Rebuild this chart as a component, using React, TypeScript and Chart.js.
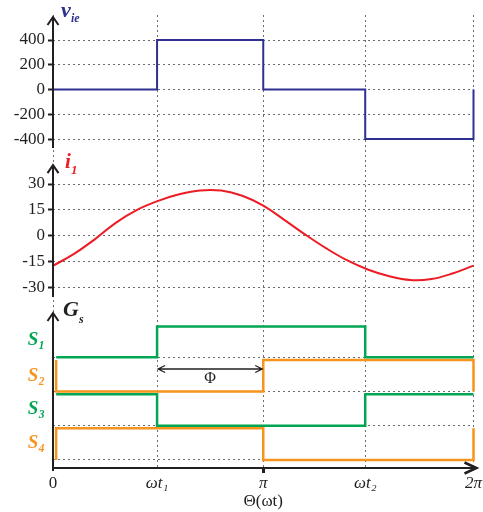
import React, { useEffect, useRef } from 'react';
import { Chart, registerables } from 'chart.js';

Chart.register(...registerables);

const PI = Math.PI;

// ---- x axis (phase angle, radians) ----
const xTickValues = [0, 0.495 * PI, PI, 1.485 * PI, 2 * PI];
const xTickLabels = ['0', 'ωt₁', 'π', 'ωt₂', '2π'];

// ---- panel 1: v_ie ----
const vieTheta = [0, 0, 0.495 * PI, 0.495 * PI, PI, PI, 1.485 * PI, 1.485 * PI, 2 * PI, 2 * PI];
const vieValues = [-400, 0, 0, 400, 400, 0, 0, -400, -400, 0];
const vieTicks = [400, 200, 0, -200, -400];

// ---- panel 2: i_1 ----
const i1ThetaOverPi = [0, 0.1, 0.2, 0.3, 0.4, 0.5, 0.6, 0.7, 0.8, 0.9, 1.0, 1.1, 1.2, 1.3, 1.4, 1.5, 1.6, 1.7, 1.8, 1.9, 2.0];
const i1Values = [-17.5, -10.6, -2.0, 7.6, 15.0, 20.2, 24.0, 26.3, 26.2, 23.2, 17.5, 9.2, 0.6, -7.4, -14.4, -19.8, -23.6, -25.8, -25.2, -22.0, -17.4];
const i1Ticks = [30, 15, 0, -15, -30];

// ---- panel 3: gate signals ----
const s1Theta = [0.015 * PI, 0.495 * PI, 0.495 * PI, 1.485 * PI, 1.485 * PI, 2 * PI];
const s1Levels = [3, 3, 3.9, 3.9, 3, 3];
const s2Theta = [0.015 * PI, 0.015 * PI, PI, PI, 2 * PI, 2 * PI];
const s2Levels = [2.92, 2, 2, 2.92, 2.92, 2];
const s3Theta = [0.015 * PI, 0.495 * PI, 0.495 * PI, 1.485 * PI, 1.485 * PI, 2 * PI];
const s3Levels = [1.92, 1.92, 1, 1, 1.92, 1.92];
const s4Theta = [0.015 * PI, 0.015 * PI, PI, PI, 2 * PI, 2 * PI];
const s4Levels = [0, 0.93, 0.93, 0, 0, 0.93];
const gateGridTicks = [0, 1, 2, 3];
const gateLabelTicks = [3.5, 2.45, 1.5, 0.5];
const gateLabels = ['S₁', 'S₂', 'S₃', 'S₄'];

// phase-shift annotation (from ωt1 to π)
const phiFrom = 0.495 * PI;
const phiTo = PI;
const phiLevel = 2.66;
const phiLabelLevel = 2.38;

const BLUE = '#2E3192';
const RED = '#ED1C24';
const GREEN = '#00A651';
const ORANGE = '#F7941D';
const INK = '#231F20';
const GRID = '#6D6E71';
const SERIF = "'Liberation Serif', 'DejaVu Serif', serif";

const pts = (xs: number[], ys: number[]) => xs.map((x, i) => ({ x, y: ys[i] }));

const decorPlugin = {
  id: 'decor',
  afterDraw(chart: any) {
    const { ctx, chartArea, scales } = chart;
    const x0 = chartArea.left;
    const xb = chartArea.bottom;
    ctx.save();
    ctx.strokeStyle = INK;
    ctx.fillStyle = INK;
    ctx.lineWidth = 2;
    ctx.lineCap = 'butt';

    const upArrow = (x: number, y: number) => {
      ctx.beginPath();
      ctx.moveTo(x - 5.5, y + 8);
      ctx.lineTo(x, y);
      ctx.lineTo(x + 5.5, y + 8);
      ctx.stroke();
    };

    // y axes of each panel
    const axes = [
      { id: 'yV', top: 586, bottom: -472, extra: 0 },
      { id: 'yI', top: 41, bottom: -35.6, extra: 0 },
      { id: 'yG', top: 4.296, bottom: null, extra: 3 },
    ];
    for (const a of axes) {
      const s = scales[a.id];
      const yt = s.getPixelForValue(a.top);
      const yb = a.bottom === null ? xb + a.extra : s.getPixelForValue(a.bottom);
      ctx.beginPath();
      ctx.moveTo(x0, yb);
      ctx.lineTo(x0, yt);
      ctx.stroke();
      upArrow(x0, yt);
    }

    // x axis with arrow
    const tipX = chartArea.right + 3;
    ctx.beginPath();
    ctx.moveTo(x0, xb);
    ctx.lineTo(tipX, xb);
    ctx.stroke();
    ctx.lineWidth = 2.5;
    ctx.beginPath();
    ctx.moveTo(tipX - 12, xb - 5.5);
    ctx.lineTo(tipX, xb);
    ctx.lineTo(tipX - 12, xb + 5.5);
    ctx.stroke();
    ctx.lineWidth = 2;

    // panel titles
    const title = (main: string, sub: string, color: string, x: number, y: number, mainSize: number, subSize: number, subDx: number, subDy: number) => {
      ctx.fillStyle = color;
      ctx.textAlign = 'left';
      ctx.textBaseline = 'alphabetic';
      ctx.font = `italic bold ${mainSize}px ${SERIF}`;
      ctx.fillText(main, x, y);
      ctx.font = `italic bold ${subSize}px ${SERIF}`;
      ctx.fillText(sub, x + subDx, y + subDy);
    };
    const yV = scales.yV, yI = scales.yI, yG = scales.yG;
    title('v', 'ie', BLUE, x0 + 8, yV.getPixelForValue(586), 22, 12, 10, 5);
    title('i', '1', RED, x0 + 12, yI.getPixelForValue(41) + 3, 21, 13, 6, 6);
    title('G', 's', INK, x0 + 10, yG.getPixelForValue(4.296) + 3, 22, 12, 16, 7);

    // phase shift arrow
    const xs = scales.x;
    const ax1 = xs.getPixelForValue(phiFrom) + 1;
    const ax2 = xs.getPixelForValue(phiTo) - 1;
    const ay = yG.getPixelForValue(phiLevel);
    ctx.strokeStyle = INK;
    ctx.lineWidth = 1.3;
    ctx.beginPath();
    ctx.moveTo(ax1, ay);
    ctx.lineTo(ax2, ay);
    ctx.moveTo(ax1 + 7, ay - 3.5);
    ctx.lineTo(ax1, ay);
    ctx.lineTo(ax1 + 7, ay + 3.5);
    ctx.moveTo(ax2 - 7, ay - 3.5);
    ctx.lineTo(ax2, ay);
    ctx.lineTo(ax2 - 7, ay + 3.5);
    ctx.stroke();
    ctx.fillStyle = INK;
    ctx.font = `16px ${SERIF}`;
    ctx.textAlign = 'center';
    ctx.textBaseline = 'middle';
    ctx.fillText('Φ', (ax1 + ax2) / 2, yG.getPixelForValue(phiLabelLevel));

    ctx.restore();
  },
};

const gridCommon = {
  color: GRID,
  lineWidth: 1,
  tickLength: 5,
  tickWidth: 2,
  tickColor: INK,
};

export default function App() {
  const ref = useRef<HTMLCanvasElement | null>(null);

  useEffect(() => {
    if (!ref.current) return;
    const common = { pointRadius: 0, borderJoinStyle: 'miter', clip: false };
    const chart = new Chart(ref.current, {
      type: 'line',
      data: {
        datasets: [
          { label: 'v_ie', data: pts(vieTheta, vieValues), yAxisID: 'yV', borderColor: BLUE, borderWidth: 2, ...common },
          { label: 'i_1', data: pts(i1ThetaOverPi.map((t) => t * PI), i1Values), yAxisID: 'yI', borderColor: RED, borderWidth: 2, tension: 0.4, ...common, borderJoinStyle: 'round' },
          { label: 'S1', data: pts(s1Theta, s1Levels), yAxisID: 'yG', borderColor: GREEN, borderWidth: 2.5, ...common },
          { label: 'S2', data: pts(s2Theta, s2Levels), yAxisID: 'yG', borderColor: ORANGE, borderWidth: 2.5, ...common },
          { label: 'S3', data: pts(s3Theta, s3Levels), yAxisID: 'yG', borderColor: GREEN, borderWidth: 2.5, ...common },
          { label: 'S4', data: pts(s4Theta, s4Levels), yAxisID: 'yG', borderColor: ORANGE, borderWidth: 2.5, ...common },
        ],
      },
      options: {
        animation: false,
        responsive: false,
        devicePixelRatio: 1,
        layout: { padding: { top: 15, right: 9.5, left: 0, bottom: 0 } },
        plugins: { legend: { display: false }, tooltip: { enabled: false } },
        scales: {
          x: {
            type: 'linear',
            min: 0,
            max: 2 * PI,
            afterBuildTicks: (s: any) => {
              s.ticks = xTickValues.map((v) => ({ value: v }));
            },
            afterFit: (s: any) => {
              s.height = 44;
            },
            ticks: {
              autoSkip: false,
              maxRotation: 0,
              padding: 0,
              color: INK,
              font: (c: any) => ({ family: SERIF, size: 17, style: c.index === 0 ? 'normal' : 'italic' }),
              callback: (v: any, i: number) => xTickLabels[i],
            },
            grid: {
              ...gridCommon,
              tickColor: (c: any) => (c.index === 2 ? INK : 'rgba(0,0,0,0)'),
              tickWidth: 3,
            },
            border: { display: false, dash: [2, 3] },
            title: { display: true, text: 'Θ(ωt)', color: INK, font: { family: SERIF, size: 17 }, padding: { top: 0, bottom: 0 } },
          },
          yG: {
            type: 'linear',
            position: 'left',
            stack: 'panels',
            stackWeight: 163,
            min: -0.234,
            max: 4.53,
            afterBuildTicks: (s: any) => {
              s.ticks = [...gateGridTicks, ...gateLabelTicks].sort((a, b) => a - b).map((v) => ({ value: v }));
            },
            afterFit: (s: any) => {
              s.width = 53;
            },
            ticks: {
              autoSkip: false,
              padding: 3,
              color: (c: any) => {
                const k = gateLabelTicks.indexOf(c.tick.value);
                return k % 2 === 0 ? GREEN : ORANGE;
              },
              font: { family: SERIF, size: 19, style: 'italic', weight: 'bold' },
              callback: (v: any) => {
                const k = gateLabelTicks.indexOf(Number(v));
                return k >= 0 ? gateLabels[k] : '';
              },
            },
            grid: {
              ...gridCommon,
              color: (c: any) => (gateGridTicks.includes(c.tick?.value) ? GRID : 'rgba(0,0,0,0)'),
              tickColor: 'rgba(0,0,0,0)',
            },
            border: { display: false, dash: [2, 3] },
          },
          yI: {
            type: 'linear',
            position: 'left',
            stack: 'panels',
            stackWeight: 148,
            min: -40.3,
            max: 45.7,
            afterBuildTicks: (s: any) => {
              s.ticks = i1Ticks.map((v) => ({ value: v }));
            },
            afterFit: (s: any) => {
              s.width = 53;
            },
            ticks: { autoSkip: false, padding: 3, color: INK, font: { family: SERIF, size: 17 }, callback: (v: any) => String(v) },
            grid: { ...gridCommon },
            border: { display: false, dash: [2, 3] },
          },
          yV: {
            type: 'linear',
            position: 'left',
            stack: 'panels',
            stackWeight: 142,
            min: -545,
            max: 602,
            afterBuildTicks: (s: any) => {
              s.ticks = vieTicks.map((v) => ({ value: v }));
            },
            afterFit: (s: any) => {
              s.width = 53;
            },
            ticks: { autoSkip: false, padding: 3, color: INK, font: { family: SERIF, size: 17 }, callback: (v: any) => String(v) },
            grid: { ...gridCommon },
            border: { display: false, dash: [2, 3] },
          },
        },
      } as any,
      plugins: [decorPlugin],
    });
    return () => chart.destroy();
  }, []);

  return (
    <div style={{ position: 'fixed', left: 0, top: 0, width: 483, height: 512, background: '#fff' }}>
      <canvas ref={ref} width={483} height={512} style={{ display: 'block', width: 483, height: 512 }} />
    </div>
  );
}
